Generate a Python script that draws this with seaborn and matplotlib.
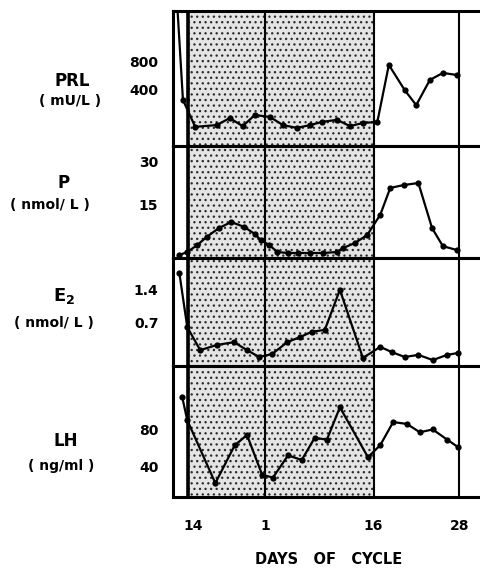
import matplotlib
matplotlib.use("Agg")
import matplotlib.pyplot as plt
import seaborn as sns

# day positions along the x axis (previous cycle to the left of day 1)
prl_day = [-11.2, -10.4, -8.7, -5.7, -3.9, -2.1, -0.4, 1.7, 3.5, 5.4, 7.3, 8.9, 11.0, 12.8, 14.6, 16.6,
           18.2, 20.4, 22.0, 23.9, 25.7, 27.7]
prl_val = [1700, 330, -55, -30, 70, -45, 115, 85, -30, -70, -30, 15, 45, -45, 0, 15,
           830, 470, 255, 615, 715, 685]

p_day = [-10.9, -9.8, -8.4, -7.1, -5.4, -3.7, -1.9, -0.4, 0.4, 1.6, 2.7, 4.2, 5.6, 7.3, 9.1, 11.0,
         11.8, 13.5, 15.2, 17.0, 18.4, 20.3, 22.3, 24.2, 25.7, 27.7]
p_val = [-0.7, 0.35, 2.8, 5.6, 8.7, 10.8, 9.1, 6.6, 4.5, 2.8, 0.35, 0.0, 0.0, 0.0, 0.0, 0.35,
         1.7, 3.5, 6.3, 13.3, 22.7, 23.7, 24.4, 8.7, 2.4, 1.0]

e2_day = [-10.9, -9.8, -8.0, -5.7, -3.3, -1.5, 0.2, 2.0, 4.1, 5.9, 7.5, 9.3, 11.4, 14.6,
          17.0, 18.6, 20.4, 22.3, 24.3, 26.3, 27.8]
e2_val = [1.87, 0.72, 0.23, 0.34, 0.40, 0.23, 0.085, 0.15, 0.40, 0.51, 0.62, 0.66, 1.51, 0.064,
          0.30, 0.19, 0.085, 0.13, 0.02, 0.13, 0.17]

lh_day = [-10.5, -9.8, -5.9, -3.2, -1.5, 0.6, 2.1, 4.2, 6.1, 7.9, 9.6, 11.4, 15.3,
          17.0, 18.8, 20.7, 22.5, 24.3, 26.3, 27.8]
lh_val = [121, 96, 28, 69, 80, 37, 34, 58, 53, 77, 75, 110, 56,
          69, 94, 92, 83, 86, 75, 67]

x_ticks = [-9, 1, 16, 28]
x_labels = ["14", "1", "16", "28"]
shade_start, shade_end = -9.7, 16.1

panels = [
    (prl_day, prl_val, (-329, 1600), [400, 800], ["400", "800"]),
    (p_day, p_val, (-1.74, 37.3), [15, 30], ["15", "30"]),
    (e2_day, e2_val, (-0.106, 2.185), [0.7, 1.4], ["0.7", "1.4"]),
    (lh_day, lh_val, (13.0, 154.6), [40, 80], ["40", "80"]),
]

sns.set_style("white")
plt.rcParams["font.family"] = ["DejaVu Sans"]
plt.rcParams["hatch.linewidth"] = 0.9
plt.rcParams["text.color"] = "black"
plt.rcParams["xtick.color"] = "black"
plt.rcParams["ytick.color"] = "black"

fig = plt.figure(figsize=(4.8, 5.72), dpi=100)
gs = fig.add_gridspec(4, 1, height_ratios=[135, 112, 108, 131], hspace=0,
                      left=173 / 480, right=1.0, top=1 - 11 / 572, bottom=1 - 497 / 572)

for i, (days, vals, ylim, yt, ytl) in enumerate(panels):
    ax = fig.add_subplot(gs[i])
    ax.axvspan(shade_start, shade_end, facecolor="#e4e4e4", edgecolor="#2a2a2a",
               hatch="...", linewidth=0, zorder=0)
    ax.axvline(shade_start, color="black", lw=2.6, zorder=1)
    ax.axvline(1, color="black", lw=1.5, zorder=1)
    ax.axvline(shade_end, color="black", lw=1.5, zorder=1)
    ax.axvline(28, color="black", lw=1.5, zorder=1)
    sns.lineplot(x=days, y=vals, ax=ax, color="black", marker="o", markersize=4.5,
                 markeredgewidth=0, linewidth=1.6, sort=False, estimator=None, zorder=3)
    ax.set_xlim(-11.78, 30.86)
    ax.set_ylim(*ylim)
    ax.set_yticks(yt)
    ax.set_yticklabels(ytl, fontsize=10, fontweight="bold", color="black")
    for lab in ax.get_yticklabels():
        lab.set_va("baseline")
    ax.tick_params(axis="y", length=0, pad=10.5)
    ax.set_xticks(x_ticks)
    if i == 3:
        ax.set_xticklabels(x_labels, fontsize=10, fontweight="bold", color="black")
        ax.tick_params(axis="x", length=0, pad=16)
    else:
        ax.set_xticklabels([])
        ax.tick_params(axis="x", length=0)
    for side in ["left", "top", "bottom"]:
        ax.spines[side].set_linewidth(2.2)
        ax.spines[side].set_color("black")
    ax.spines["right"].set_visible(False)
    ax.set_xlabel("")
    ax.set_ylabel("")

def lbl(x, y, s, size):
    fig.text(x / 480, 1 - y / 572, s, ha="center", va="center", fontsize=size,
             fontweight="bold", color="black")

lbl(72, 81, "PRL", 12)
lbl(70, 101, "( mU/L )", 10)
lbl(64, 183, "P", 12)
lbl(50, 205, "( nmol/ L )", 10)
fig.text(64 / 480, 1 - 296 / 572, r"$\mathbf{E_2}$", ha="center", va="center",
         fontsize=13, color="black")
lbl(54, 323, "( nmol/ L )", 10)
lbl(66, 441, "LH", 12)
lbl(61, 466, "( ng/ml )", 10)
lbl(329, 559, "DAYS   OF   CYCLE", 10.5)

fig.savefig("out.png", dpi=100)
